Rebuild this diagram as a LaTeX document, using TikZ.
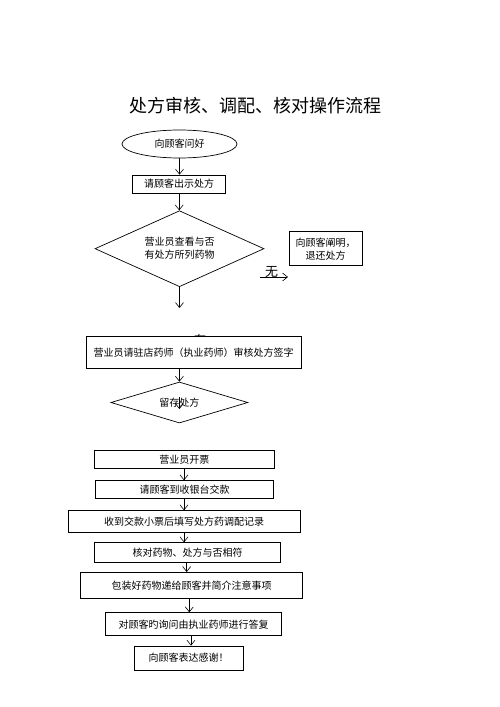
\documentclass[tikz,border=0pt]{standalone}
\usepackage{fontspec}
\setmainfont{Noto Sans CJK SC}
\usepackage{tikz}
\usetikzlibrary{arrows,arrows.meta,positioning}
\usetikzlibrary{shapes.geometric}
\tikzset{bx/.style={rectangle, draw, fill=white, inner sep=0pt}}
\tikzset{dm/.style={diamond, draw, inner sep=0pt, aspect=2.2}}
\tikzset{a/.style={draw, line width=.6pt, -{Straight Barb[length=5pt,width=8pt]}}}

\begin{document}
\begin{tikzpicture}[x=1pt,y=-1pt]
        \tikzstyle{every node}=[font=\fontsize{10}{13}\selectfont, line width=.7pt]
        \useasboundingbox (0,0) rectangle (500,707);
        \node (t) at (255,106) {\fontsize{18}{20}\selectfont 处方审核、调配、核对操作流程};
        %% top part
        \node (s) at (179.5,144) [ellipse, draw, minimum width=115pt, minimum height=28pt, inner sep=0pt] {向顾客问好};
        \node (q1) at (179.2,184) [bx, minimum width=93pt, minimum height=18pt] {请顾客出示处方};
        \node (d1) at (179.5,248.7) [dm, minimum width=169pt, minimum height=76pt, align=center] {营业员查看与否\\有处方所列药物};
        \node (r) at (325.5,248.7) [bx, minimum width=73pt, minimum height=34pt, align=center] {向顾客阐明，\\退还处方};
        \coordinate (w0) at (260,277); \coordinate (w1) at (288,277);
        \node (wu) at (271.5,272) {\fontsize{13}{13}\selectfont 无};
        \coordinate (y0) at (179.5,308);
        \node (yo) at (200,340) {\fontsize{12}{12}\selectfont 有};
        \node (q2) at (193.5,352.4) [bx, minimum width=215pt, minimum height=31.5pt] {营业员请驻店药师（执业药师）审核处方签字};
        \node (d2) at (179.4,402.5) [dm, minimum width=137pt, minimum height=41pt] {留存处方};
        \coordinate (k0) at (179.4,397); \coordinate (k1) at (179.4,409);
        \draw [a] (s) to (s |- q1.north); \draw [a] (q1) to (q1 |- d1.north);
        \draw [a] (w0) to (w1); \draw [a] (d1.south) to (y0);
        \draw [a] (q2.south -| d2) to (d2.north); \draw [a] (k0) to (k1);
        %% bottom part
        \node (b1) at (184.3,459.5) [bx, minimum width=180pt, minimum height=17.6pt] {营业员开票};
        \node (b2) at (184.5,489.5) [bx, minimum width=177.6pt, minimum height=17.6pt] {请顾客到收银台交款};
        \node (b3) at (184.2,521.5) [bx, minimum width=231.7pt, minimum height=21.6pt] {收到交款小票后填写处方药调配记录};
        \node (b4) at (187.5,552.5) [bx, minimum width=186.4pt, minimum height=19.6pt] {核对药物、处方与否相符};
        \node (b5) at (191.5,585.2) [bx, minimum width=221.6pt, minimum height=25.7pt] {包装好药物递给顾客并简介注意事项};
        \node (b6) at (193.7,624.2) [bx, minimum width=176pt, minimum height=23pt] {对顾客旳询问由执业药师进行答复};
        \node (b7) at (188.7,658) [bx, minimum width=109.3pt, minimum height=24pt] {向顾客表达感谢！};
        \draw [a] (184,0 |- b1.south) to (184,0 |- b2.north);
        \draw [a] (184,0 |- b2.south) to (184,0 |- b3.north);
        \draw [a] (184,0 |- b3.south) to (184,0 |- b4.north);
        \draw [a] (186.7,0 |- b4.south) to (186.7,0 |- b5.north);
        \draw [a] (189.3,0 |- b5.south) to (189.3,0 |- b6.north);
        \draw [a] (191,0 |- b6.south) to (191,0 |- b7.north);
    \end{tikzpicture}
\end{document}
